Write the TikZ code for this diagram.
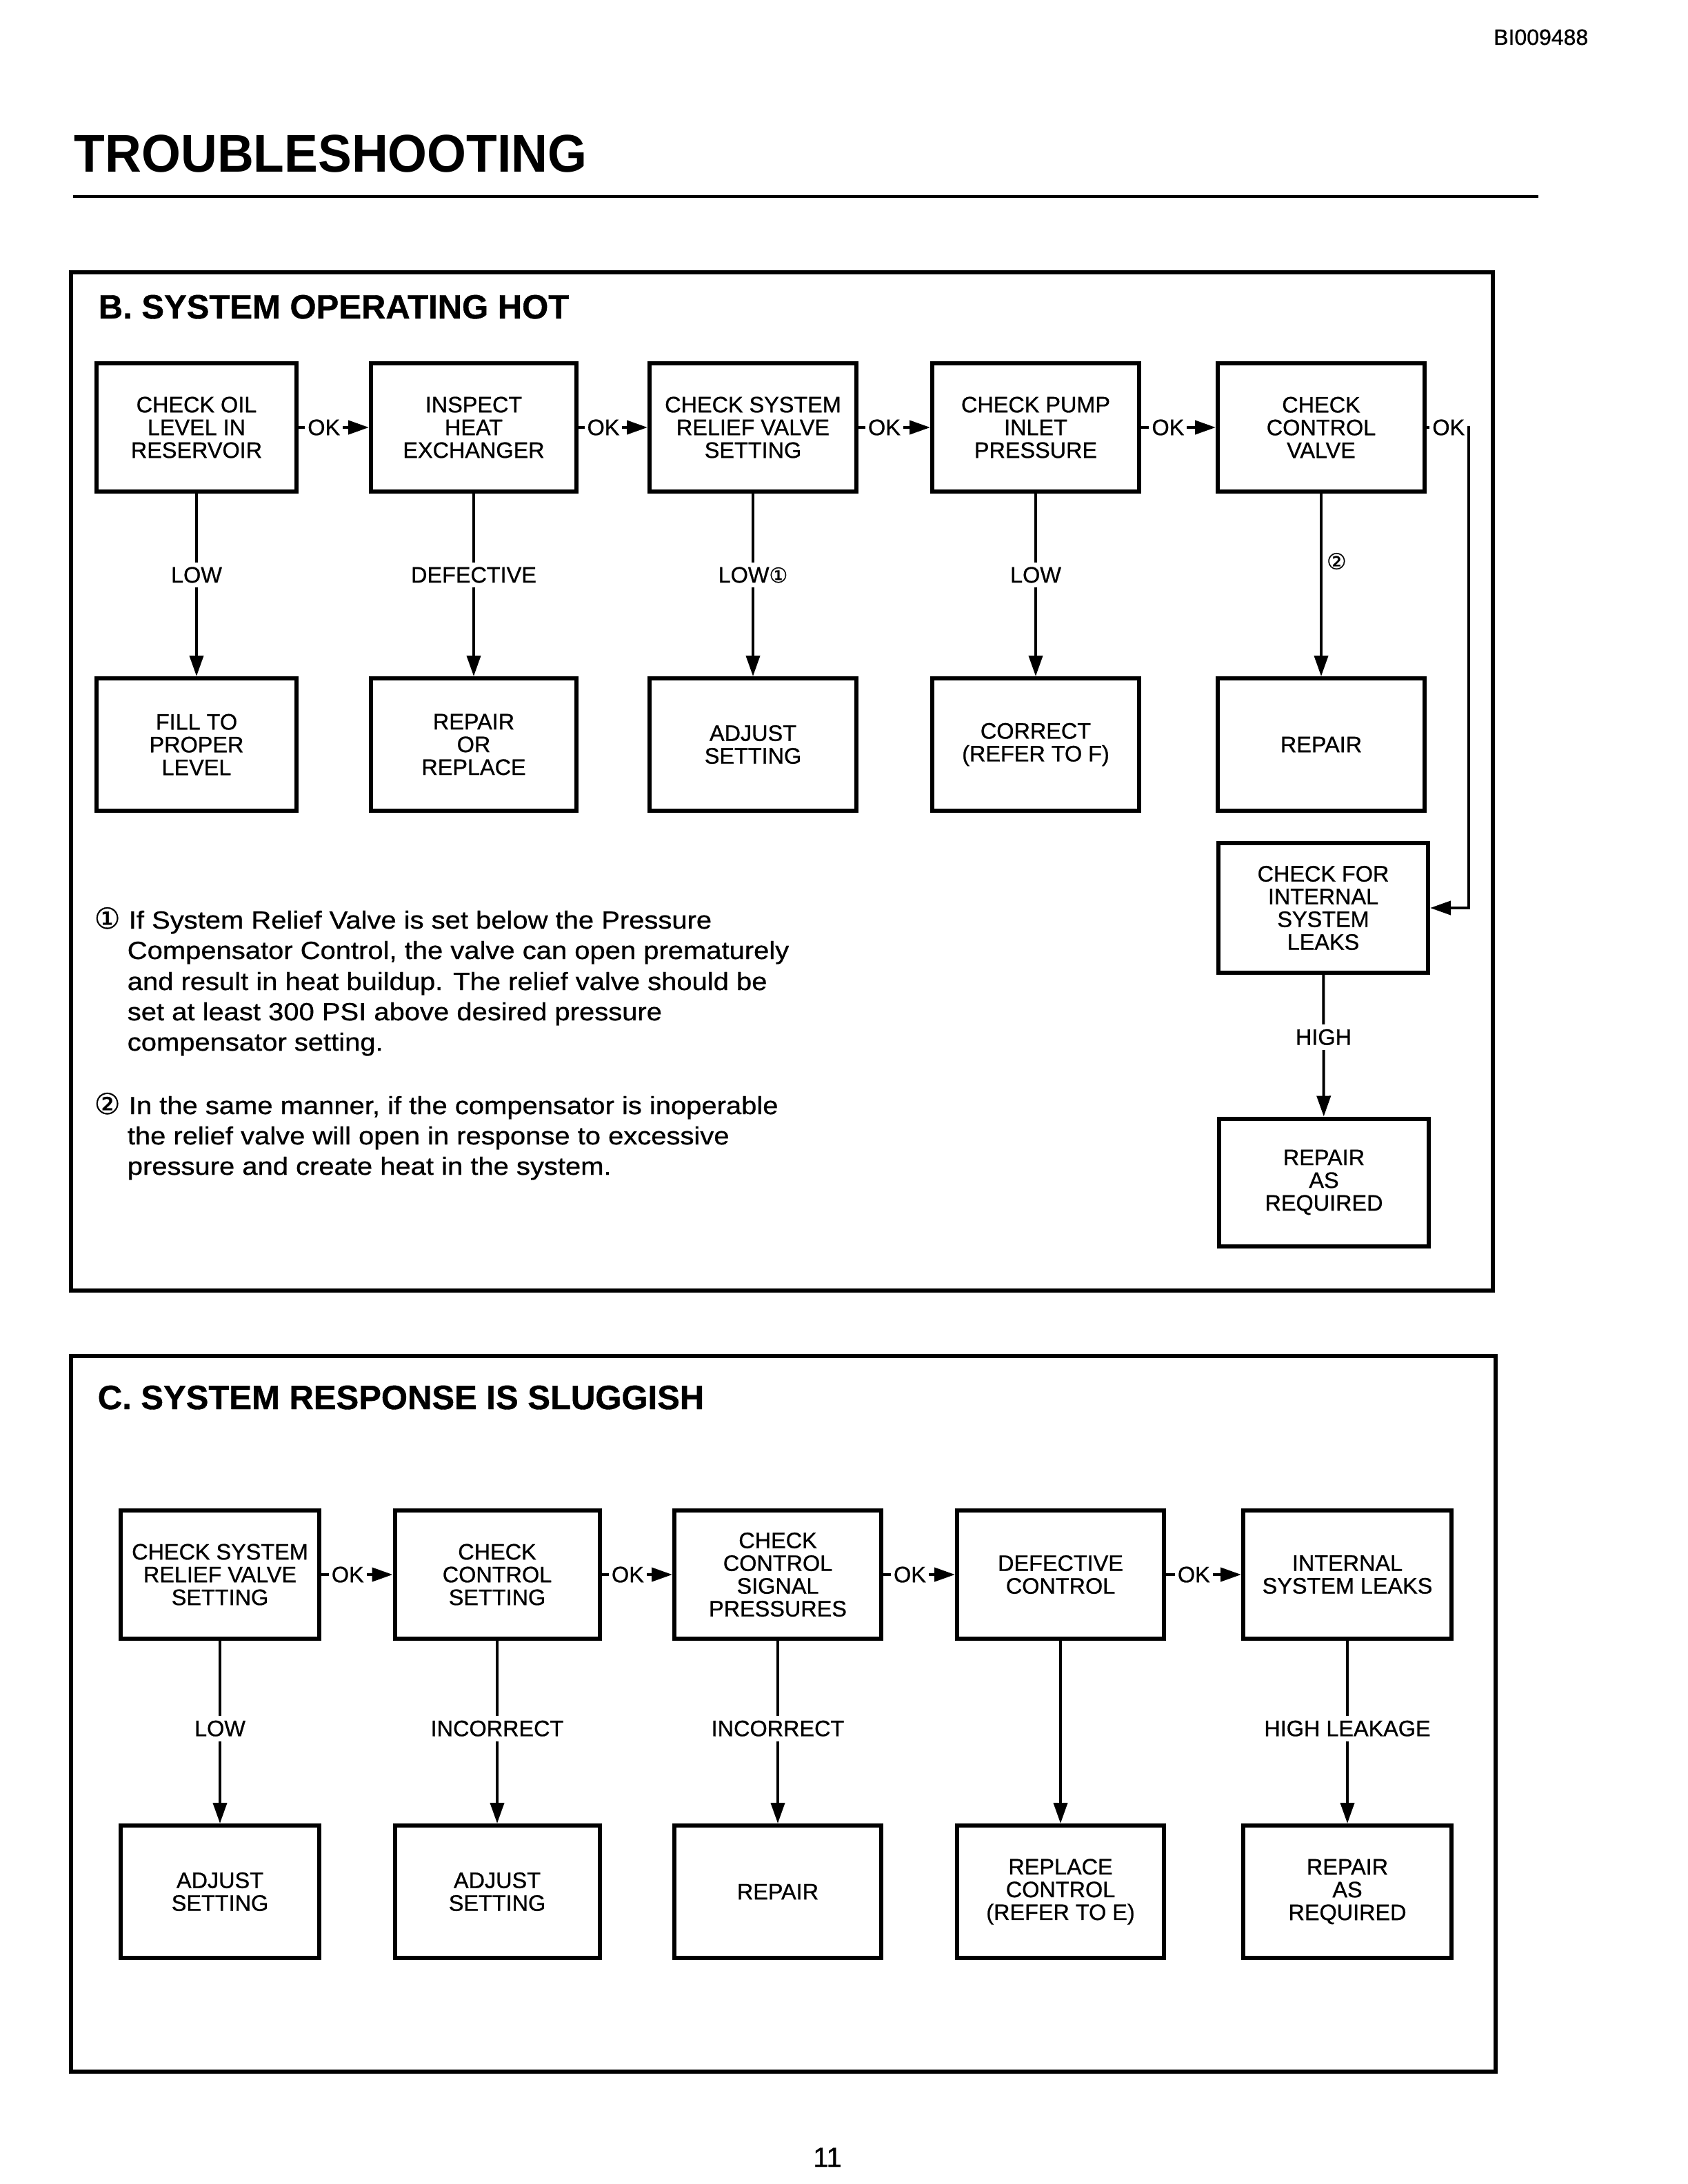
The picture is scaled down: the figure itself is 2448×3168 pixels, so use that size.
\documentclass[tikz,border=0pt]{standalone}
\usepackage{fontspec}
\setmainfont[FakeBold=0.8]{Liberation Sans}
\newfontfamily\cfont[FakeBold=0.8]{DejaVu Sans}
\newfontfamily\fnfont[FakeStretch=1.11,FakeBold=0.8]{Liberation Sans}
\newfontfamily\ttlfont[FakeStretch=0.95]{Liberation Sans}
\usetikzlibrary{arrows.meta}
\begin{document}
\begin{tikzpicture}[x=0.25pt,y=-0.25pt,
  boxfont/.style={font={\fontsize{8.1pt}{8.25pt}\selectfont}},
  box/.style={draw, line width=1.5pt, minimum width=75pt, minimum height=46.5pt,
    inner sep=0pt, align=center, boxfont},
  boxtall/.style={box, minimum height=48pt},
  frame/.style={draw, line width=1.5pt},
  conn/.style={line width=1pt, line join=miter, -{Triangle[length=7.5pt,width=5pt]}},
  oklbl/.style={fill=white, inner xsep=1pt, inner ysep=1pt, boxfont},
  vlbl/.style={fill=white, inner xsep=2pt, inner ysep=1.7pt, boxfont},
  sectitle/.style={anchor=base west, inner sep=0pt, font={\bfseries\fontsize{12.25pt}{14pt}\selectfont}},
  fnl/.style={anchor=base west, inner sep=0pt, font={\fnfont\fontsize{9pt}{11pt}\selectfont}},
  fnmark/.style={anchor=base west, inner sep=0pt, font={\cfont\fontsize{10.5pt}{12pt}\selectfont}},
  circ/.style={font={\cfont\fontsize{8pt}{9pt}\selectfont}}
]
\useasboundingbox (0,0) rectangle (2448,3168);

% header
\node[anchor=base east, inner sep=0pt, font={\fontsize{8pt}{9pt}\selectfont}] (code) at (2304,65) {BI009488};
\node[anchor=base west, inner sep=0pt, font={\ttlfont\bfseries\fontsize{19.25pt}{22pt}\selectfont}] (ttl) at (107,250) {TROUBLESHOOTING};
\coordinate (ruleL) at (106,285);
\coordinate (ruleR) at (2231,285);
\draw[line width=1pt] (ruleL) -- (ruleR);

% section frames
\draw[frame] (103,395) rectangle (2165,1872);
\draw[frame] (103,1967) rectangle (2169,3005);

\node[sectitle] (tB) at (142,462) {B. SYSTEM OPERATING HOT};
\node[sectitle] (tC) at (141,2044) {C. SYSTEM RESPONSE IS SLUGGISH};

% ---------- Section B ----------
\node[box, minimum width=72.5pt] (b1) at (285,620) {CHECK OIL\\LEVEL IN\\RESERVOIR};
\node[box, minimum width=74.5pt] (b2) at (687,620) {INSPECT\\HEAT\\EXCHANGER};
\node[box] (b3) at (1092,620) {CHECK SYSTEM\\RELIEF VALVE\\SETTING};
\node[box] (b4) at (1502,620) {CHECK PUMP\\INLET\\PRESSURE};
\node[box] (b5) at (1916,620) {CHECK\\CONTROL\\VALVE};

\node[boxtall, minimum width=72.5pt] (f1) at (285,1080) {FILL TO\\PROPER\\LEVEL};
\node[boxtall, minimum width=74.5pt] (f2) at (687,1080) {REPAIR\\OR\\REPLACE};
\node[boxtall] (f3) at (1092,1080) {ADJUST\\SETTING};
\node[boxtall] (f4) at (1502,1080) {CORRECT\\(REFER TO F)};
\node[boxtall] (f5) at (1916,1080) {REPAIR};

\node[box, minimum width=76pt, minimum height=47pt] (leak) at (1919,1317) {CHECK FOR\\INTERNAL\\SYSTEM\\LEAKS};
\node[box, minimum width=76pt, minimum height=46.25pt] (rep) at (1920,1715) {REPAIR\\AS\\REQUIRED};

\draw[conn] (b1) -- node[oklbl, pos=0.36] {OK} (b2);
\draw[conn] (b2) -- node[oklbl, pos=0.36] {OK} (b3);
\draw[conn] (b3) -- node[oklbl, pos=0.36] {OK} (b4);
\draw[conn] (b4) -- node[oklbl, pos=0.36] {OK} (b5);
\coordinate (k5) at (2130,620);
\draw[conn] (b5.east) -- node[oklbl, pos=0.52] {OK} (k5) |- (leak.east);

\draw[conn] (b1) -- node[vlbl, pos=0.445] {LOW} (f1);
\draw[conn] (b2) -- node[vlbl, pos=0.445] {DEFECTIVE} (f2);
\draw[conn] (b3) -- node[vlbl, pos=0.445] {LOW{\cfont\fontsize{7.5pt}{8pt}\selectfont ①}} (f3);
\draw[conn] (b4) -- node[vlbl, pos=0.445] {LOW} (f4);
\draw[conn] (b5) -- node[circ, pos=0.37, anchor=west, inner sep=1.5pt] {②} (f5);
\draw[conn] (leak) -- node[vlbl, pos=0.44] {HIGH} (rep);

% footnotes
\node[fnmark] (m1) at (136,1347) {①};
\node[fnl] (n1a) at (186,1347) {If System Relief Valve is set below the Pressure};
\node[fnl] (n1b) at (184,1391) {Compensator Control, the valve can open prematurely};
\node[fnl] (n1c) at (184,1436) {and result in heat buildup. The relief valve should be};
\node[fnl] (n1d) at (184,1480) {set at least 300 PSI above desired pressure};
\node[fnl] (n1e) at (184,1524) {compensator setting.};
\node[fnmark] (m2) at (136,1616) {②};
\node[fnl] (n2a) at (186,1616) {In the same manner, if the compensator is inoperable};
\node[fnl] (n2b) at (184,1660) {the relief valve will open in response to excessive};
\node[fnl] (n2c) at (184,1704) {pressure and create heat in the system.};

% ---------- Section C ----------
\node[box, minimum width=72pt] (c1) at (319,2284) {CHECK SYSTEM\\RELIEF VALVE\\SETTING};
\node[box, minimum width=74.25pt] (c2) at (721,2284) {CHECK\\CONTROL\\SETTING};
\node[box] (c3) at (1128,2284) {CHECK\\CONTROL\\SIGNAL\\PRESSURES};
\node[box] (c4) at (1538,2284) {DEFECTIVE\\CONTROL};
\node[box, minimum width=75.5pt] (c5) at (1954,2284) {INTERNAL\\SYSTEM LEAKS};

\node[boxtall, minimum width=72pt] (d1) at (319,2744) {ADJUST\\SETTING};
\node[boxtall, minimum width=74.25pt] (d2) at (721,2744) {ADJUST\\SETTING};
\node[boxtall] (d3) at (1128,2744) {REPAIR};
\node[boxtall] (d4) at (1538,2744) {REPLACE\\CONTROL\\(REFER TO E)};
\node[boxtall, minimum width=75.5pt] (d5) at (1954,2744) {REPAIR\\AS\\REQUIRED};

\draw[conn] (c1) -- node[oklbl, pos=0.37] {OK} (c2);
\draw[conn] (c2) -- node[oklbl, pos=0.37] {OK} (c3);
\draw[conn] (c3) -- node[oklbl, pos=0.37] {OK} (c4);
\draw[conn] (c4) -- node[oklbl, pos=0.37] {OK} (c5);

\draw[conn] (c1) -- node[vlbl, pos=0.48] {LOW} (d1);
\draw[conn] (c2) -- node[vlbl, pos=0.48] {INCORRECT} (d2);
\draw[conn] (c3) -- node[vlbl, pos=0.48] {INCORRECT} (d3);
\draw[conn] (c4) -- (d4);
\draw[conn] (c5) -- node[vlbl, pos=0.48] {HIGH LEAKAGE} (d5);

% page number
\node[anchor=base, inner sep=0pt, font={\fontsize{10pt}{12pt}\selectfont}] (pg) at (1200,3143) {11};
\end{tikzpicture}
\end{document}
